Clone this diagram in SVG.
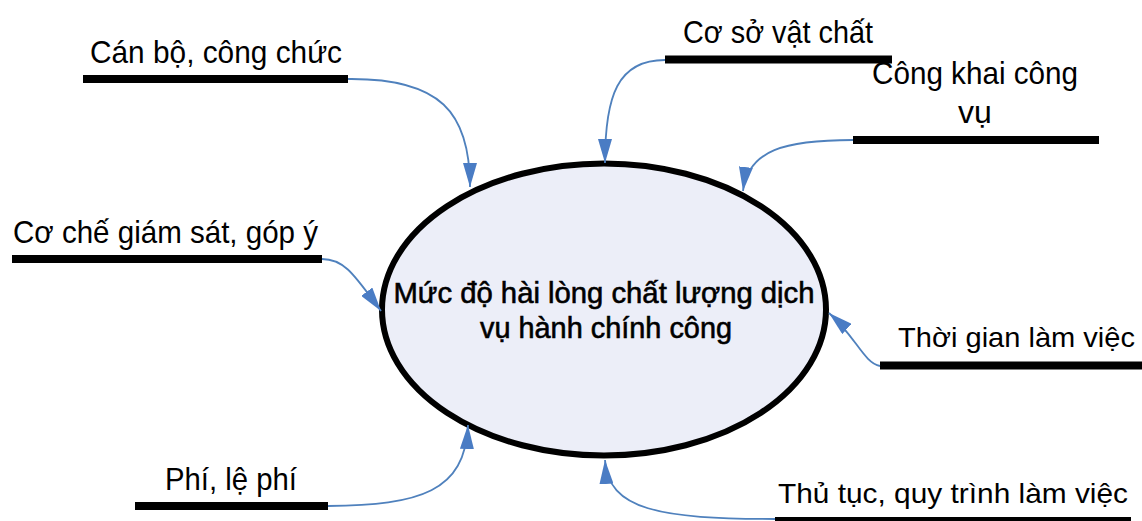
<svg xmlns="http://www.w3.org/2000/svg" width="1142" height="521" viewBox="0 0 1142 521">
  <defs>
    <marker id="arrow" viewBox="0 0 24 14" refX="24" refY="7" markerWidth="24" markerHeight="14" markerUnits="userSpaceOnUse" orient="auto">
      <path d="M0,0 L24,7 L0,14 z" fill="#4A7CC4"/>
    </marker>
    <style>
      .bar { stroke: #000; stroke-width: 8; fill: none; }
      .lbl { font-family: "Liberation Sans", Arial, sans-serif; font-size: 32px; fill: #000; }
      .lbl.edge { font-size: 28px; }
      .core { font-family: "Liberation Sans", Arial, sans-serif; font-size: 30px; fill: #000; stroke: #000; stroke-width: 0.6; text-anchor: middle; }
      .link { fill: none; stroke: #4F81BD; stroke-width: 1.8; marker-end: url(#arrow); }
    </style>
  </defs>

  <rect width="1142" height="521" fill="#fff"/>

  <!-- central ellipse -->
  <g id="center">
    <ellipse cx="604" cy="309.5" rx="222" ry="146" fill="#ECEEF8" stroke="#000" stroke-width="6"/>
    <text class="core" x="604" y="303" textLength="421" lengthAdjust="spacingAndGlyphs">Mức độ hài lòng chất lượng dịch</text>
    <text class="core" x="606" y="338" textLength="252" lengthAdjust="spacingAndGlyphs">vụ hành chính công</text>
  </g>

  <!-- factor labels on underline bars -->
  <g id="can-bo">
    <text class="lbl" x="90" y="63" textLength="252" lengthAdjust="spacingAndGlyphs">Cán bộ, công chức</text>
    <line class="bar" x1="83" y1="79" x2="348" y2="79"/>
  </g>

  <g id="cong-khai">
    <text class="lbl" x="872" y="84" textLength="206" lengthAdjust="spacingAndGlyphs">Công khai công</text>
    <text class="lbl" x="975" y="123" text-anchor="middle">vụ</text>
    <line class="bar" x1="853" y1="140" x2="1099" y2="140"/>
  </g>

  <g id="co-so">
    <text class="lbl" x="683" y="43" textLength="190" lengthAdjust="spacingAndGlyphs">Cơ sở vật chất</text>
    <line class="bar" x1="665" y1="59.5" x2="892" y2="59.5"/>
  </g>

  <g id="co-che">
    <text class="lbl" x="13" y="243" textLength="305" lengthAdjust="spacingAndGlyphs">Cơ chế giám sát, góp ý</text>
    <line class="bar" x1="12" y1="259" x2="322" y2="259"/>
  </g>

  <g id="thoi-gian">
    <text class="lbl edge" x="898" y="347" textLength="237" lengthAdjust="spacingAndGlyphs">Thời gian làm việc</text>
    <line class="bar" x1="880" y1="365.5" x2="1142" y2="365.5"/>
  </g>

  <g id="phi">
    <text class="lbl" x="165" y="490" textLength="132" lengthAdjust="spacingAndGlyphs">Phí, lệ phí</text>
    <line class="bar" x1="135" y1="506" x2="328" y2="506"/>
  </g>

  <g id="thu-tuc">
    <text class="lbl edge" x="778" y="503" textLength="350" lengthAdjust="spacingAndGlyphs">Thủ tục, quy trình làm việc</text>
    <line class="bar" x1="775" y1="521" x2="1131" y2="521"/>
  </g>

  <!-- connectors from each factor into the ellipse -->
  <g id="connectors">
    <path class="link" d="M348,79 C440,78 470,112 470,187"/>
    <path class="link" d="M665,60 C618,60 605,95 605,163"/>
    <path class="link" d="M853,140 C785,140 748,150 743,191"/>
    <path class="link" d="M322,259 C345,259 355,276 381,311"/>
    <path class="link" d="M880,366 C864,363 856,337 829,313"/>
    <path class="link" d="M328,506 C420,505 465,492 468,425"/>
    <path class="link" d="M775,519 C660,519 608,510 605,460"/>
  </g>
</svg>
